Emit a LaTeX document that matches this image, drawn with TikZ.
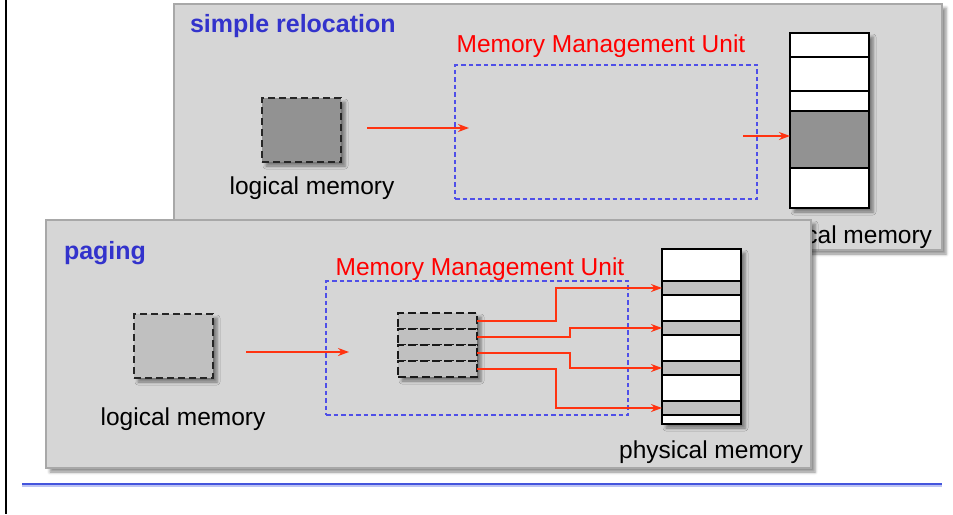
\documentclass[tikz,border=0pt]{standalone}
\usepackage{fontspec}
\setmainfont{Liberation Sans}
\usetikzlibrary{arrows.meta,shadows.blur}
\definecolor{panelfill}{HTML}{D6D6D6}
\definecolor{panelline}{HTML}{A8A8A8}
\definecolor{titleblue}{HTML}{3333CC}
\definecolor{arrred}{HTML}{FF3311}
\definecolor{mmublue}{HTML}{4F4FE8}
\definecolor{blockdark}{HTML}{929292}
\definecolor{blocklight}{HTML}{C0C0C0}
\definecolor{ruleblue}{HTML}{4455DD}
\begin{document}
\begin{tikzpicture}[x=1pt,y=-1pt,
  shad/.style={blur shadow={shadow xshift=4pt,shadow yshift=-4pt,shadow blur radius=3pt,shadow opacity=45}},
  panel/.style={draw=panelline,line width=1.2pt,fill=panelfill,shad,inner sep=0,outer sep=0,anchor=north west},
  mmu/.style={draw=mmublue,line width=1.2pt,dash pattern=on 4.5pt off 3pt,inner sep=0,outer sep=0,anchor=north west,minimum width=302pt,minimum height=134pt},
  logbox/.style={draw=black!85,line width=1.7pt,dash pattern=on 7pt off 4pt,inner sep=0,outer sep=0,anchor=north west,minimum width=79pt,minimum height=64pt,shad},
  colbox/.style={draw=black,line width=2pt,fill=white,inner sep=0,outer sep=0,anchor=north west,minimum width=79pt,shad},
  seg/.style={draw=black,line width=1.4pt,inner sep=0,outer sep=0,anchor=north west,minimum width=79pt},
  ptrow/.style={draw=black!90,line width=2.2pt,dash pattern=on 8pt off 4pt,fill=blocklight,inner sep=0,outer sep=0,anchor=north west,minimum width=79pt,minimum height=16pt},
  lbl/.style={font=\fontsize{24.5}{28}\selectfont,inner sep=0,outer sep=0},
  title/.style={font=\fontsize{25}{28}\selectfont\bfseries,text=titleblue,inner sep=0,outer sep=0,anchor=west},
  mmulbl/.style={font=\fontsize{24.5}{28}\selectfont,text=red,inner sep=0,outer sep=0},
  arr/.style={draw=arrred,line width=2pt,-{Stealth[length=11pt,width=8pt]}}
]
\useasboundingbox (0,0) rectangle (953,514);
% left rule and bottom rule
\coordinate (lt) at (6,0);
\coordinate (lb) at (6,514);
\draw[line width=2pt,black] (lt) -- (lb);
\coordinate (rl) at (22,484);
\coordinate (rr) at (942,484);
\draw[line width=3pt,ruleblue!35] ([yshift=-1.5pt]rl) -- ([yshift=-1.5pt]rr);
\draw[line width=1.8pt,ruleblue] (rl) -- (rr);

% ===== simple relocation panel =====
\node[panel,minimum width=768pt,minimum height=246pt] (toppanel) at (174,4) {};
\node[title] (toptitle) at (190,26) {simple relocation};
\node[mmulbl] (tmmulbl) at (601,46) {Memory Management Unit};
\node[mmu] (tmmu) at (455,65) {};
\node[logbox,fill=blockdark] (tlog) at (262,98) {};
\node[lbl] (tloglbl) at (312,188) {logical memory};
\node[colbox,minimum height=175pt] (tphys) at (790,33) {};
\node[seg,fill=white,minimum height=24pt] (ts1) at (790,33) {};
\node[seg,fill=white,minimum height=34pt] (ts2) at (790,57) {};
\node[seg,fill=white,minimum height=20pt] (ts3) at (790,91) {};
\node[seg,fill=blockdark,minimum height=57pt] (ts4) at (790,111) {};
\node[seg,fill=white,minimum height=40pt] (ts5) at (790,168) {};
\draw[line width=2pt] (tphys.north west) rectangle (tphys.south east);
\node[lbl,anchor=east] (tphyslbl) at (932,237) {physical memory};
\coordinate (ta1) at (367,128);
\coordinate (ta2) at (469,128);
\draw[arr] (ta1) -- (ta2);
\coordinate (ta3) at (743,136);
\draw[arr] (ta3) -- (ta3 -| ts4.west);

% ===== paging panel =====
\node[panel,minimum width=765pt,minimum height=248pt] (botpanel) at (46,220) {};
\node[title] (bottitle) at (64,253) {paging};
\node[mmulbl] (bmmulbl) at (480,269) {Memory Management Unit};
\node[mmu] (bmmu) at (326,281) {};
\node[logbox,fill=blocklight] (blog) at (134,314) {};
\node[lbl] (bloglbl) at (183,419) {logical memory};
\coordinate (ba1) at (246,352);
\coordinate (ba2) at (349,352);
\draw[arr] (ba1) -- (ba2);
% page table
\node[colbox,draw=none,fill=blocklight,minimum height=64pt] (ptab) at (398,313) {};
\node[ptrow] (pt1) at (398,313) {};
\node[ptrow] (pt2) at (398,329) {};
\node[ptrow] (pt3) at (398,345) {};
\node[ptrow] (pt4) at (398,361) {};
% physical memory
\node[colbox,minimum height=175pt] (bphys) at (662,249) {};
\node[seg,fill=white,minimum height=32pt] (bw1) at (662,249) {};
\node[seg,fill=blocklight,minimum height=14pt] (g1) at (662,281) {};
\node[seg,fill=white,minimum height=26pt] (bw2) at (662,295) {};
\node[seg,fill=blocklight,minimum height=14pt] (g2) at (662,321) {};
\node[seg,fill=white,minimum height=26pt] (bw3) at (662,335) {};
\node[seg,fill=blocklight,minimum height=14pt] (g3) at (662,361) {};
\node[seg,fill=white,minimum height=26pt] (bw4) at (662,375) {};
\node[seg,fill=blocklight,minimum height=14pt] (g4) at (662,401) {};
\node[seg,fill=white,minimum height=9pt] (bw5) at (662,415) {};
\draw[line width=2pt] (bphys.north west) rectangle (bphys.south east);
\node[lbl,anchor=east] (bphyslbl) at (803,452) {physical memory};
% mapping arrows
\draw[arr] (pt1.east) -- ++(79,0) |- (g1.west);
\draw[arr] (pt2.east) -- ++(93,0) |- (g2.west);
\draw[arr] (pt3.east) -- ++(93,0) |- (g3.west);
\draw[arr] (pt4.east) -- ++(79,0) |- (g4.west);
\end{tikzpicture}
\end{document}
